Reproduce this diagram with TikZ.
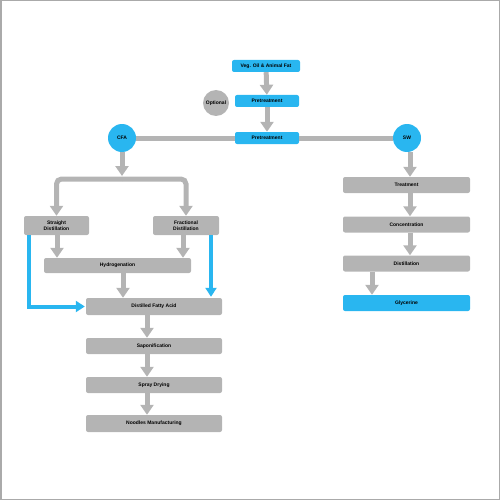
\documentclass[tikz,border=0pt]{standalone}
\usepackage{fontspec}
\setmainfont{Liberation Sans}
\usetikzlibrary{arrows.meta}
\definecolor{cblue}{RGB}{41,182,240}
\definecolor{cgrey}{RGB}{180,180,180}
\definecolor{cframe}{RGB}{170,170,170}
\tikzset{
  lbl/.style={font=\fontsize{5}{5.6}\selectfont\bfseries, text=black, align=center, inner sep=0pt},
  bbox/.style={lbl, fill=cblue, rounded corners=2pt, minimum width=#1},
  gbox/.style={lbl, fill=cgrey, rounded corners=2pt, minimum width=#1},
  garrow/.style={draw=cgrey, line width=5pt, -{Triangle[width=13pt,length=10pt]}},
  gline/.style={draw=cgrey, line width=5pt},
  barrow/.style={draw=cblue, line width=4pt, -{Triangle[width=11pt,length=9pt]}},
}
\begin{document}
\begin{tikzpicture}[x=1pt,y=-1pt]
\useasboundingbox (0,0) rectangle (500,500);
\draw[cframe, line width=1.5pt] (0.75,0.75) rectangle (499.25,499.25);
% top
\node[bbox=68pt, minimum height=12pt] (veg) at (266,66) {Veg. Oil \& Animal Fat};
\node[bbox=64pt, minimum height=12pt] (pre1) at (267,101) {Pretreatment};
\node[bbox=64pt, minimum height=12pt] (pre2) at (267,138) {Pretreatment};
\node[lbl, circle, fill=cgrey, minimum size=26pt] (opt) at (216,103) {Optional};
\node[lbl, circle, fill=cblue, minimum size=28pt] (cfa) at (122,138) {CFA};
\node[lbl, circle, fill=cblue, minimum size=28pt] (sw) at (407,138) {SW};
\draw[garrow] (veg) -- (pre1);
\draw[garrow] (pre1) -- (pre2);
\draw[gline] (cfa) -- (pre2);
\draw[gline] (pre2) -- (sw);
% left branch
\node[gbox=65pt, minimum height=19pt] (sd) at (56.5,225.5) {Straight\\Distillation};
\node[gbox=66pt, minimum height=19pt] (fd) at (186,225.5) {Fractional\\Distillation};
\node[gbox=147pt, minimum height=15pt] (hyd) at (117.5,265.5) {Hydrogenation};
\node[gbox=136pt, minimum height=17pt] (dfa) at (154,306.5) {Distilled Fatty Acid};
\node[gbox=136pt, minimum height=16pt] (sap) at (154,346) {Saponification};
\node[gbox=136pt, minimum height=16pt] (spr) at (154,385) {Spray Drying};
\node[gbox=136pt, minimum height=17pt] (nood) at (154,423.5) {Noodles Manufacturing};
\coordinate (split) at (122,179);
\draw[garrow, shorten >=3pt] (cfa) -- (split);
\draw[garrow, rounded corners=5pt] (split) -| (sd.north);
\draw[garrow, rounded corners=5pt] (split) -| (fd.north);
\draw[garrow] (sd.south -| 57,0) -- (hyd.north -| 57,0);
\draw[garrow] (fd.south -| 183,0) -- (hyd.north -| 183,0);
\draw[garrow] (hyd.south -| 123,0) -- (dfa.north -| 123,0);
\draw[barrow, shorten >=1pt] (sd.south -| 29,0) |- (dfa.west);
\draw[barrow, shorten >=1pt] (fd.south -| 211,0) -- (dfa.north -| 211,0);
\draw[garrow] (dfa.south -| 147,0) -- (sap.north -| 147,0);
\draw[garrow] (sap.south -| 147,0) -- (spr.north -| 147,0);
\draw[garrow] (spr.south -| 147,0) -- (nood.north -| 147,0);
% right branch
\node[gbox=127pt, minimum height=16pt] (tre) at (406.5,185) {Treatment};
\node[gbox=127pt, minimum height=16pt] (con) at (406.5,224.5) {Concentration};
\node[gbox=127pt, minimum height=16pt] (dis) at (406.5,263.5) {Distillation};
\node[bbox=127pt, minimum height=16pt] (gly) at (406.5,303) {Glycerine};
\draw[garrow] (sw.south -| 410,0) -- (tre.north -| 410,0);
\draw[garrow] (tre.south -| 410,0) -- (con.north -| 410,0);
\draw[garrow] (con.south -| 410,0) -- (dis.north -| 410,0);
\draw[garrow] (dis.south -| 372,0) -- (gly.north -| 372,0);
\end{tikzpicture}
\end{document}
